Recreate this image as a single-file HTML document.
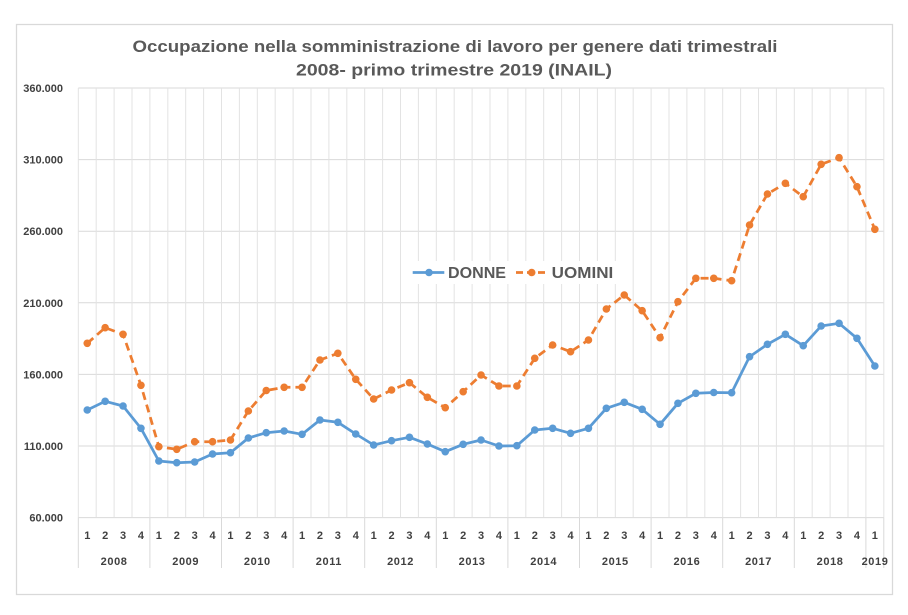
<!DOCTYPE html>
<html><head><meta charset="utf-8"><style>
html,body{margin:0;padding:0;background:#fff;}
svg{display:block;}
text{font-family:"Liberation Sans",Arial,sans-serif;}
</style></head><body>
<svg width="908" height="615" viewBox="0 0 908 615" xmlns="http://www.w3.org/2000/svg">
<rect x="0" y="0" width="908" height="615" fill="#fff"/>
<rect x="16.5" y="24.5" width="876" height="570" fill="#fff" stroke="#d9d9d9" stroke-width="1.3"/>
<text x="455" y="52" text-anchor="middle" font-size="17" font-weight="bold" fill="#595959" textLength="645" lengthAdjust="spacingAndGlyphs">Occupazione nella somministrazione di lavoro per genere dati trimestrali</text>
<text x="454" y="75.5" text-anchor="middle" font-size="17" font-weight="bold" fill="#595959" textLength="316" lengthAdjust="spacingAndGlyphs">2008- primo trimestre 2019 (INAIL)</text>
<g stroke="#d9d9d9" stroke-width="1">
<line x1="78.3" y1="88" x2="883.8" y2="88"/>
<line x1="78.3" y1="159.6" x2="883.8" y2="159.6"/>
<line x1="78.3" y1="231.2" x2="883.8" y2="231.2"/>
<line x1="78.3" y1="302.8" x2="883.8" y2="302.8"/>
<line x1="78.3" y1="374.4" x2="883.8" y2="374.4"/>
<line x1="78.3" y1="446" x2="883.8" y2="446"/>
<line x1="78.3" y1="517.6" x2="883.8" y2="517.6"/>
</g>
<g stroke="#e3e3e3" stroke-width="1">
<line x1="78.3" y1="88" x2="78.3" y2="517.6"/><line x1="96.2" y1="88" x2="96.2" y2="517.6"/><line x1="114.1" y1="88" x2="114.1" y2="517.6"/><line x1="132.0" y1="88" x2="132.0" y2="517.6"/><line x1="149.9" y1="88" x2="149.9" y2="517.6"/><line x1="167.8" y1="88" x2="167.8" y2="517.6"/><line x1="185.7" y1="88" x2="185.7" y2="517.6"/><line x1="203.6" y1="88" x2="203.6" y2="517.6"/><line x1="221.5" y1="88" x2="221.5" y2="517.6"/><line x1="239.4" y1="88" x2="239.4" y2="517.6"/><line x1="257.3" y1="88" x2="257.3" y2="517.6"/><line x1="275.2" y1="88" x2="275.2" y2="517.6"/><line x1="293.1" y1="88" x2="293.1" y2="517.6"/><line x1="311.0" y1="88" x2="311.0" y2="517.6"/><line x1="328.9" y1="88" x2="328.9" y2="517.6"/><line x1="346.8" y1="88" x2="346.8" y2="517.6"/><line x1="364.7" y1="88" x2="364.7" y2="517.6"/><line x1="382.6" y1="88" x2="382.6" y2="517.6"/><line x1="400.5" y1="88" x2="400.5" y2="517.6"/><line x1="418.4" y1="88" x2="418.4" y2="517.6"/><line x1="436.3" y1="88" x2="436.3" y2="517.6"/><line x1="454.2" y1="88" x2="454.2" y2="517.6"/><line x1="472.1" y1="88" x2="472.1" y2="517.6"/><line x1="490.0" y1="88" x2="490.0" y2="517.6"/><line x1="507.9" y1="88" x2="507.9" y2="517.6"/><line x1="525.8" y1="88" x2="525.8" y2="517.6"/><line x1="543.7" y1="88" x2="543.7" y2="517.6"/><line x1="561.6" y1="88" x2="561.6" y2="517.6"/><line x1="579.5" y1="88" x2="579.5" y2="517.6"/><line x1="597.4" y1="88" x2="597.4" y2="517.6"/><line x1="615.3" y1="88" x2="615.3" y2="517.6"/><line x1="633.2" y1="88" x2="633.2" y2="517.6"/><line x1="651.1" y1="88" x2="651.1" y2="517.6"/><line x1="669.0" y1="88" x2="669.0" y2="517.6"/><line x1="686.9" y1="88" x2="686.9" y2="517.6"/><line x1="704.8" y1="88" x2="704.8" y2="517.6"/><line x1="722.7" y1="88" x2="722.7" y2="517.6"/><line x1="740.6" y1="88" x2="740.6" y2="517.6"/><line x1="758.5" y1="88" x2="758.5" y2="517.6"/><line x1="776.4" y1="88" x2="776.4" y2="517.6"/><line x1="794.3" y1="88" x2="794.3" y2="517.6"/><line x1="812.2" y1="88" x2="812.2" y2="517.6"/><line x1="830.1" y1="88" x2="830.1" y2="517.6"/><line x1="848.0" y1="88" x2="848.0" y2="517.6"/><line x1="865.9" y1="88" x2="865.9" y2="517.6"/><line x1="883.8" y1="88" x2="883.8" y2="517.6"/>
</g>
<g stroke="#d9d9d9" stroke-width="1">
<line x1="78.3" y1="517.6" x2="78.3" y2="568"/><line x1="149.9" y1="517.6" x2="149.9" y2="568"/><line x1="221.5" y1="517.6" x2="221.5" y2="568"/><line x1="293.1" y1="517.6" x2="293.1" y2="568"/><line x1="364.7" y1="517.6" x2="364.7" y2="568"/><line x1="436.3" y1="517.6" x2="436.3" y2="568"/><line x1="507.9" y1="517.6" x2="507.9" y2="568"/><line x1="579.5" y1="517.6" x2="579.5" y2="568"/><line x1="651.1" y1="517.6" x2="651.1" y2="568"/><line x1="722.7" y1="517.6" x2="722.7" y2="568"/><line x1="794.3" y1="517.6" x2="794.3" y2="568"/><line x1="865.9" y1="517.6" x2="865.9" y2="568"/><line x1="883.8" y1="517.6" x2="883.8" y2="568"/>
</g>
<g font-size="11" font-weight="bold" fill="#404040" text-anchor="end">
<text x="63" y="92">360.000</text>
<text x="63" y="163.6">310.000</text>
<text x="63" y="235.2">260.000</text>
<text x="63" y="306.8">210.000</text>
<text x="63" y="378.4">160.000</text>
<text x="63" y="450">110.000</text>
<text x="63" y="521.6">60.000</text>
</g>
<g font-size="11" font-weight="bold" fill="#404040" text-anchor="middle">
<text x="87.25" y="539">1</text><text x="105.15" y="539">2</text><text x="123.05" y="539">3</text><text x="140.95" y="539">4</text>
<text x="158.85" y="539">1</text><text x="176.75" y="539">2</text><text x="194.65" y="539">3</text><text x="212.55" y="539">4</text>
<text x="230.45" y="539">1</text><text x="248.35" y="539">2</text><text x="266.25" y="539">3</text><text x="284.15" y="539">4</text>
<text x="302.05" y="539">1</text><text x="319.95" y="539">2</text><text x="337.85" y="539">3</text><text x="355.75" y="539">4</text>
<text x="373.65" y="539">1</text><text x="391.55" y="539">2</text><text x="409.45" y="539">3</text><text x="427.35" y="539">4</text>
<text x="445.25" y="539">1</text><text x="463.15" y="539">2</text><text x="481.05" y="539">3</text><text x="498.95" y="539">4</text>
<text x="516.85" y="539">1</text><text x="534.75" y="539">2</text><text x="552.65" y="539">3</text><text x="570.55" y="539">4</text>
<text x="588.45" y="539">1</text><text x="606.35" y="539">2</text><text x="624.25" y="539">3</text><text x="642.15" y="539">4</text>
<text x="660.05" y="539">1</text><text x="677.95" y="539">2</text><text x="695.85" y="539">3</text><text x="713.75" y="539">4</text>
<text x="731.65" y="539">1</text><text x="749.55" y="539">2</text><text x="767.45" y="539">3</text><text x="785.35" y="539">4</text>
<text x="803.25" y="539">1</text><text x="821.15" y="539">2</text><text x="839.05" y="539">3</text><text x="856.95" y="539">4</text>
<text x="874.85" y="539">1</text>
</g>
<g font-size="11" font-weight="bold" fill="#404040" text-anchor="middle" letter-spacing="0.6">
<text x="114.1" y="565">2008</text><text x="185.7" y="565">2009</text><text x="257.3" y="565">2010</text><text x="328.9" y="565">2011</text><text x="400.5" y="565">2012</text><text x="472.1" y="565">2013</text><text x="543.7" y="565">2014</text><text x="615.3" y="565">2015</text><text x="686.9" y="565">2016</text><text x="758.5" y="565">2017</text><text x="830.1" y="565">2018</text><text x="875" y="565">2019</text>
</g>
<polyline fill="none" stroke="#5B9BD5" stroke-width="2.75" stroke-linejoin="round" stroke-linecap="round" points="87.25,410 105.15,401.3 123.05,406 140.95,428.3 158.85,461 176.75,462.7 194.65,462 212.55,454 230.45,452.7 248.35,438 266.25,432.7 284.15,431 302.05,434.3 319.95,420 337.85,422.3 355.75,434 373.65,445 391.55,440.7 409.45,437.3 427.35,444 445.25,451.7 463.15,444.3 481.05,440 498.95,446 516.85,445.7 534.75,430 552.65,428.3 570.55,433.3 588.45,428.3 606.35,408.3 624.25,402.3 642.15,409.3 660.05,424.3 677.95,403.3 695.85,393.3 713.75,392.5 731.65,392.7 749.55,356.7 767.45,344.3 785.35,334.3 803.25,345.7 821.15,326 839.05,323.3 856.95,338.3 874.85,366"/>
<g fill="#5B9BD5">
<circle cx="87.25" cy="410" r="3.8"/><circle cx="105.15" cy="401.3" r="3.8"/><circle cx="123.05" cy="406" r="3.8"/><circle cx="140.95" cy="428.3" r="3.8"/><circle cx="158.85" cy="461" r="3.8"/><circle cx="176.75" cy="462.7" r="3.8"/><circle cx="194.65" cy="462" r="3.8"/><circle cx="212.55" cy="454" r="3.8"/><circle cx="230.45" cy="452.7" r="3.8"/><circle cx="248.35" cy="438" r="3.8"/><circle cx="266.25" cy="432.7" r="3.8"/><circle cx="284.15" cy="431" r="3.8"/><circle cx="302.05" cy="434.3" r="3.8"/><circle cx="319.95" cy="420" r="3.8"/><circle cx="337.85" cy="422.3" r="3.8"/><circle cx="355.75" cy="434" r="3.8"/><circle cx="373.65" cy="445" r="3.8"/><circle cx="391.55" cy="440.7" r="3.8"/><circle cx="409.45" cy="437.3" r="3.8"/><circle cx="427.35" cy="444" r="3.8"/><circle cx="445.25" cy="451.7" r="3.8"/><circle cx="463.15" cy="444.3" r="3.8"/><circle cx="481.05" cy="440" r="3.8"/><circle cx="498.95" cy="446" r="3.8"/><circle cx="516.85" cy="445.7" r="3.8"/><circle cx="534.75" cy="430" r="3.8"/><circle cx="552.65" cy="428.3" r="3.8"/><circle cx="570.55" cy="433.3" r="3.8"/><circle cx="588.45" cy="428.3" r="3.8"/><circle cx="606.35" cy="408.3" r="3.8"/><circle cx="624.25" cy="402.3" r="3.8"/><circle cx="642.15" cy="409.3" r="3.8"/><circle cx="660.05" cy="424.3" r="3.8"/><circle cx="677.95" cy="403.3" r="3.8"/><circle cx="695.85" cy="393.3" r="3.8"/><circle cx="713.75" cy="392.5" r="3.8"/><circle cx="731.65" cy="392.7" r="3.8"/><circle cx="749.55" cy="356.7" r="3.8"/><circle cx="767.45" cy="344.3" r="3.8"/><circle cx="785.35" cy="334.3" r="3.8"/><circle cx="803.25" cy="345.7" r="3.8"/><circle cx="821.15" cy="326" r="3.8"/><circle cx="839.05" cy="323.3" r="3.8"/><circle cx="856.95" cy="338.3" r="3.8"/><circle cx="874.85" cy="366" r="3.8"/>
</g>
<polyline fill="none" stroke="#ED7D31" stroke-width="2.75" stroke-dasharray="8 5" stroke-linejoin="round" points="87.25,343.3 105.15,327.7 123.05,334.3 140.95,385.3 158.85,446.7 176.75,449.3 194.65,441.7 212.55,441.7 230.45,440 248.35,411 266.25,390.5 284.15,387.3 302.05,387.3 319.95,360 337.85,353.3 355.75,379.3 373.65,399 391.55,390 409.45,382.7 427.35,397.3 445.25,407.7 463.15,391.7 481.05,375 498.95,386 516.85,386 534.75,358.3 552.65,345 570.55,351.7 588.45,340 606.35,309 624.25,295 642.15,310.7 660.05,337.7 677.95,301.7 695.85,278.3 713.75,278.3 731.65,280.7 749.55,225 767.45,194 785.35,183.3 803.25,196.7 821.15,164.3 839.05,157.7 856.95,186.7 874.85,229.3"/>
<g fill="#ED7D31">
<circle cx="87.25" cy="343.3" r="3.8"/><circle cx="105.15" cy="327.7" r="3.8"/><circle cx="123.05" cy="334.3" r="3.8"/><circle cx="140.95" cy="385.3" r="3.8"/><circle cx="158.85" cy="446.7" r="3.8"/><circle cx="176.75" cy="449.3" r="3.8"/><circle cx="194.65" cy="441.7" r="3.8"/><circle cx="212.55" cy="441.7" r="3.8"/><circle cx="230.45" cy="440" r="3.8"/><circle cx="248.35" cy="411" r="3.8"/><circle cx="266.25" cy="390.5" r="3.8"/><circle cx="284.15" cy="387.3" r="3.8"/><circle cx="302.05" cy="387.3" r="3.8"/><circle cx="319.95" cy="360" r="3.8"/><circle cx="337.85" cy="353.3" r="3.8"/><circle cx="355.75" cy="379.3" r="3.8"/><circle cx="373.65" cy="399" r="3.8"/><circle cx="391.55" cy="390" r="3.8"/><circle cx="409.45" cy="382.7" r="3.8"/><circle cx="427.35" cy="397.3" r="3.8"/><circle cx="445.25" cy="407.7" r="3.8"/><circle cx="463.15" cy="391.7" r="3.8"/><circle cx="481.05" cy="375" r="3.8"/><circle cx="498.95" cy="386" r="3.8"/><circle cx="516.85" cy="386" r="3.8"/><circle cx="534.75" cy="358.3" r="3.8"/><circle cx="552.65" cy="345" r="3.8"/><circle cx="570.55" cy="351.7" r="3.8"/><circle cx="588.45" cy="340" r="3.8"/><circle cx="606.35" cy="309" r="3.8"/><circle cx="624.25" cy="295" r="3.8"/><circle cx="642.15" cy="310.7" r="3.8"/><circle cx="660.05" cy="337.7" r="3.8"/><circle cx="677.95" cy="301.7" r="3.8"/><circle cx="695.85" cy="278.3" r="3.8"/><circle cx="713.75" cy="278.3" r="3.8"/><circle cx="731.65" cy="280.7" r="3.8"/><circle cx="749.55" cy="225" r="3.8"/><circle cx="767.45" cy="194" r="3.8"/><circle cx="785.35" cy="183.3" r="3.8"/><circle cx="803.25" cy="196.7" r="3.8"/><circle cx="821.15" cy="164.3" r="3.8"/><circle cx="839.05" cy="157.7" r="3.8"/><circle cx="856.95" cy="186.7" r="3.8"/><circle cx="874.85" cy="229.3" r="3.8"/>
</g>
<rect x="408" y="261" width="210" height="23" fill="#fff"/>
<line x1="412.7" y1="272.5" x2="444.3" y2="272.5" stroke="#5B9BD5" stroke-width="2.75"/>
<circle cx="429" cy="272.5" r="3.8" fill="#5B9BD5"/>
<text x="448" y="278" font-size="16" font-weight="bold" fill="#595959" textLength="58" lengthAdjust="spacingAndGlyphs">DONNE</text>
<line x1="516" y1="272.5" x2="545" y2="272.5" stroke="#ED7D31" stroke-width="2.75" stroke-dasharray="7 4"/>
<circle cx="531.7" cy="272.5" r="3.8" fill="#ED7D31"/>
<text x="551.7" y="278" font-size="16" font-weight="bold" fill="#595959" textLength="61.6" lengthAdjust="spacingAndGlyphs">UOMINI</text>
</svg>
</body></html>
